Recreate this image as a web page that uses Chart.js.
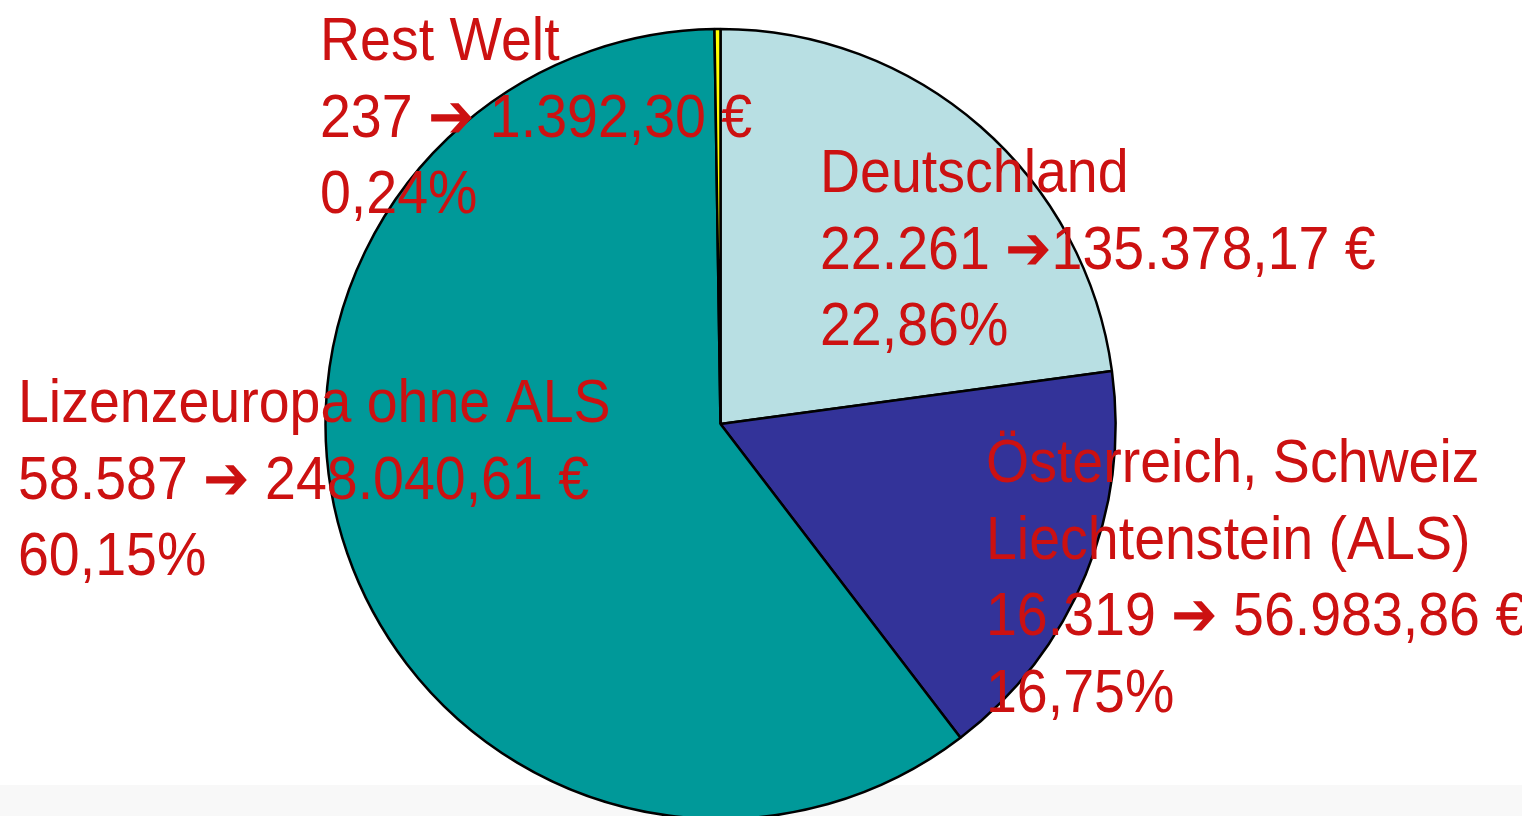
<!DOCTYPE html>
<html><head><meta charset="utf-8">
<script src="https://cdn.jsdelivr.net/npm/chart.js@4/dist/chart.umd.min.js"></script>
<style>html,body{margin:0;padding:0;background:#fff;overflow:hidden}#wrap{width:1522px;height:816px;position:relative}</style>
</head><body><div id="wrap"><canvas id="c" width="1522" height="816"></canvas></div>
<script>
const categories = ["Deutschland", "Österreich, Schweiz Liechtenstein (ALS)", "Lizenzeuropa ohne ALS", "Rest Welt"];
const counts = [22261, 16319, 58587, 237];
const amounts = ["135.378,17 €", "56.983,86 €", "248.040,61 €", "1.392,30 €"];
const percents = ["22,86%", "16,75%", "60,15%", "0,24%"];
const colors = ["#b8dfe3", "#333399", "#009999", "#ffff00"];

const labelLines = [
  ["Deutschland", "22.261 \u2794135.378,17 €", "22,86%"],
  ["Österreich, Schweiz", "Liechtenstein (ALS)", "16.319 \u2794 56.983,86 €", "16,75%"],
  ["Lizenzeuropa ohne ALS", "58.587 \u2794 248.040,61 €", "60,15%"],
  ["Rest Welt", "237 \u2794 1.392,30 €", "0,24%"]
];
const labelPos = [[820, 192], [986, 482], [18, 422], [320, 60]];

const bgPlugin = {
  id: 'bg',
  beforeDraw(chart) {
    const ctx = chart.ctx;
    ctx.save();
    ctx.fillStyle = '#f8f8f8';
    ctx.fillRect(0, 785, chart.width, chart.height - 785);
    ctx.restore();
  }
};
const textPlugin = {
  id: 'txt',
  afterDraw(chart) {
    const ctx = chart.ctx;
    const sx = 0.91;
    ctx.save();
    ctx.fillStyle = '#cc1111';
    ctx.font = '61px "Liberation Sans Narrow", "Arial Narrow", "Liberation Sans", sans-serif';
    ctx.textBaseline = 'alphabetic';
    ctx.textAlign = 'left';
    labelLines.forEach((lines, i) => {
      const [x, y] = labelPos[i];
      lines.forEach((l, j) => {
        ctx.save();
        ctx.translate(x, y + j * 76.5);
        ctx.scale(sx, 1);
        ctx.fillText(l, 0, 0);
        ctx.restore();
      });
    });
    ctx.restore();
  }
};

new Chart(document.getElementById('c'), {
  type: 'pie',
  data: {
    labels: categories,
    datasets: [{
      data: counts,
      backgroundColor: colors,
      borderColor: '#000',
      borderWidth: 2.5,
      radius: 395
    }]
  },
  options: {
    responsive: false,
    animation: false,
    layout: { padding: { left: 0, right: 81, top: 32, bottom: 0 } },
    plugins: { legend: { display: false }, tooltip: { enabled: false } }
  },
  plugins: [bgPlugin, textPlugin]
});
</script></body></html>
